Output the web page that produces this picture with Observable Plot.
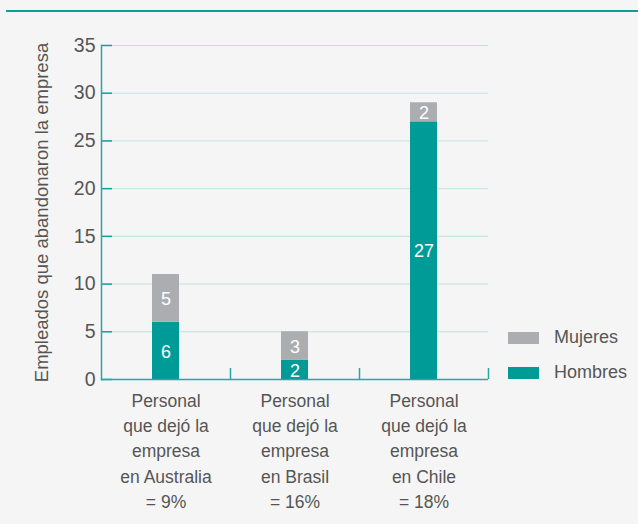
<!DOCTYPE html>
<html>
<head>
<meta charset="utf-8">
<script src="https://cdn.jsdelivr.net/npm/d3@7"></script>
<script src="https://cdn.jsdelivr.net/npm/@observablehq/plot@0.6"></script>
<style>
  html, body { margin: 0; padding: 0; background: #f5f5f5; }
  #wrap { position: relative; width: 638px; height: 524px; overflow: hidden; background: #f5f5f5; font-family: "Liberation Sans", Arial, sans-serif; }
  #topline { position: absolute; left: 6px; top: 10px; width: 632px; height: 2px; background: #159c99; }
  .leg { position: absolute; left: 508px; display: flex; align-items: center; font-size: 18px; color: #555; }
  .sw { width: 31px; height: 12px; margin-right: 15px; }
</style>
</head>
<body>
<div id="wrap"><div id="topline"></div></div>
<script>
const countries = ["Australia", "Brasil", "Chile"];
const hombres = [6, 2, 27];
const mujeres = [5, 3, 2];
const sexes = ["Hombres", "Mujeres"];
const xLabels = [
  "Personal\nque dejó la\nempresa\nen Australia\n= 9%",
  "Personal\nque dejó la\nempresa\nen Brasil\n= 16%",
  "Personal\nque dejó la\nempresa\nen Chile\n= 18%"
];
const yTicks = [0, 5, 10, 15, 20, 25, 30, 35];
const yLabel = "Empleados que abandonaron la empresa";
const legendOrder = ["Mujeres", "Hombres"];

const teal = "#009a97";
const grey = "#abadb0";

const data = [];
countries.forEach((c, i) => {
  data.push({country: c, sex: "Hombres", value: hombres[i]});
  data.push({country: c, sex: "Mujeres", value: mujeres[i]});
});

const chart = Plot.plot({
  width: 638,
  height: 524,
  marginLeft: 101,
  marginRight: 150,
  marginTop: 45,
  marginBottom: 145,
  style: {background: "transparent", fontFamily: "'Liberation Sans', Arial, sans-serif", color: "#555"},
  x: {domain: countries, paddingInner: 0.79, paddingOuter: 0.395, label: null},
  y: {domain: [0, 35], ticks: yTicks, label: null},
  color: {domain: sexes, range: [teal, grey]},
  marks: [
    Plot.gridY(yTicks, {stroke: "#bfe3e4", strokeOpacity: 1}),
    Plot.barY(data, {x: "country", y: "value", fill: "sex"}),
    Plot.text(data, Plot.stackY({x: "country", y: "value", z: "sex", text: d => String(d.value), fill: "white", fontSize: 18, dy: 1})),
    Plot.axisY(yTicks, {tickSize: 0, tickPadding: 6, fontSize: 19.5, fill: "#555", label: null}),
    Plot.tickY(yTicks, {y: d => d, stroke: "#14a0a0", strokeWidth: 1.5, insetRight: 376}),
    Plot.frame({anchor: "left", stroke: "#2aa6a6", strokeWidth: 1.5}),
    Plot.ruleY([0], {stroke: "#2aa6a6", strokeWidth: 1.5}),
    Plot.ruleX(countries, {x: d => d, dx: 64.5, insetTop: 323, stroke: "#2aa6a6", strokeWidth: 1.5}),
    Plot.axisX({tickSize: 0, tickPadding: 9, tickFormat: d => xLabels[countries.indexOf(d)], lineHeight: 1.45, fontSize: 17.5, fill: "#555", label: null}),
    Plot.text([yLabel], {frameAnchor: "left", textAnchor: "middle", rotate: -90, dx: -59, fontSize: 18.5, fill: "#555"})
  ]
});

const wrap = document.getElementById("wrap");
chart.style.position = "absolute";
chart.style.left = "0px";
chart.style.top = "0px";
wrap.appendChild(chart);

const legTops = {Mujeres: 332, Hombres: 367};
legendOrder.forEach(s => {
  const d = document.createElement("div");
  d.className = "leg";
  d.style.top = legTops[s] - 5 + "px";
  const sw = document.createElement("div");
  sw.className = "sw";
  sw.style.background = s === "Hombres" ? teal : grey;
  const t = document.createElement("span");
  t.textContent = s;
  d.appendChild(sw);
  d.appendChild(t);
  wrap.appendChild(d);
});
</script>
</body>
</html>
